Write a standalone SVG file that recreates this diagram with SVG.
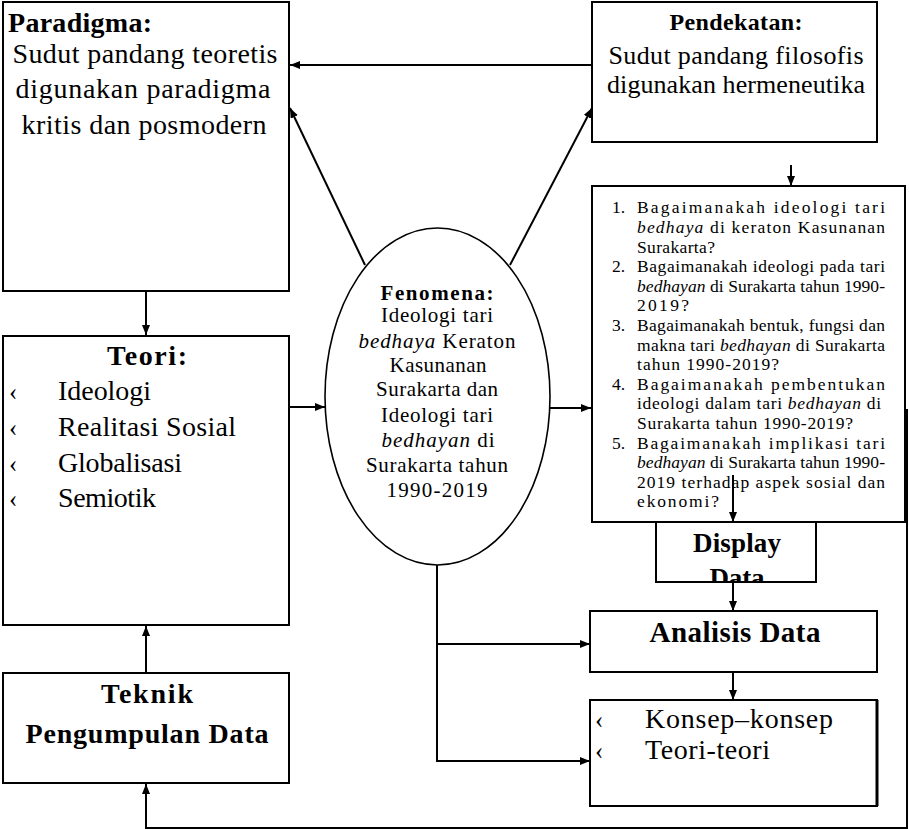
<svg xmlns="http://www.w3.org/2000/svg" width="909" height="830" viewBox="0 0 909 830" font-family="'Liberation Serif', 'Times New Roman', Times, serif">
  <style>
    .box { fill: #fff; stroke: #000; stroke-width: 2; }
    .ell { fill: #fff; stroke: #000; stroke-width: 1.6; }
    text { font-family: 'Liberation Serif', 'Times New Roman', Times, serif; fill: #000; }
    .b { font-weight: bold; }
    .i { font-style: italic; }
    .c { text-anchor: middle; }
    .big { font-size: 28px; }
    .mid { font-size: 26px; }
    .ellt { font-size: 21px; }
    .q { font-size: 17.5px; }
    .bul { font-size: 25px; }
    .wire { fill: none; stroke: #000; stroke-width: 2; marker-end: url(#arr); }
  </style>
  <defs>
    <marker id="arr" viewBox="0 0 10 8" refX="10" refY="4" markerWidth="10" markerHeight="8" markerUnits="userSpaceOnUse" orient="auto-start-reverse">
      <path d="M0,0 L10,4 L0,8 z" fill="#000"/>
    </marker>
    <clipPath id="dispClip">
      <rect x="656" y="522" width="160" height="60"/>
    </clipPath>
  </defs>

  <rect width="909" height="830" fill="#fff"/>

  <!-- connectors -->
  <g id="connectors">
    <path class="wire" d="M592,65 H290"/>
    <path class="wire" d="M365,265 L290,108"/>
    <path class="wire" d="M510,265 L592,108"/>
    <path class="wire" d="M146,291 V335"/>
    <path class="wire" d="M289,407 H325"/>
    <path class="wire" d="M550,408 H591"/>
    <path class="wire" d="M791,165 V186"/>
    <path class="wire" d="M437,565 V761 H590"/>
    <path class="wire" d="M437,644 H590"/>
    <path class="wire" d="M146,673 V626"/>
    <path class="wire" d="M146,784 V828 H907 V410 H882" style="marker-start: url(#arr)"/>
  </g>

  <!-- Paradigma -->
  <g id="paradigma">
    <rect class="box" x="3" y="2" width="286" height="289"/>
    <text class="b big" x="8" y="32" textLength="144">Paradigma:</text>
    <text class="big c" x="145" y="63" textLength="265">Sudut pandang teoretis</text>
    <text class="big c" x="143" y="98" textLength="255">digunakan paradigma</text>
    <text class="big c" x="144" y="134" textLength="245">kritis dan posmodern</text>
  </g>

  <!-- Pendekatan -->
  <g id="pendekatan">
    <rect class="box" x="592" y="2" width="285" height="140"/>
    <text class="b c" x="736" y="30" font-size="24" textLength="133">Pendekatan:</text>
    <text class="mid c" x="736" y="64" textLength="255">Sudut pandang filosofis</text>
    <text class="mid c" x="736" y="93" textLength="258">digunakan hermeneutika</text>
  </g>

  <!-- Fenomena -->
  <g id="fenomena">
    <ellipse class="ell" cx="437.5" cy="396.5" rx="112.5" ry="168.5"/>
    <text class="b ellt c" x="437" y="300" textLength="113">Fenomena:</text>
    <text class="ellt c" x="437" y="322" textLength="112">Ideologi tari</text>
    <text class="ellt c" x="437" y="348" textLength="157"><tspan class="i">bedhaya</tspan> Keraton</text>
    <text class="ellt c" x="438" y="372" textLength="97">Kasunanan</text>
    <text class="ellt c" x="437" y="396" textLength="122">Surakarta dan</text>
    <text class="ellt c" x="437" y="422" textLength="112">Ideologi tari</text>
    <text class="ellt c" x="438" y="447" textLength="113"><tspan class="i">bedhayan</tspan> di</text>
    <text class="ellt c" x="437" y="472" textLength="142">Surakarta tahun</text>
    <text class="ellt c" x="437" y="497" textLength="101">1990-2019</text>
  </g>

  <!-- Rumusan masalah -->
  <g id="pertanyaan">
    <rect class="box" x="592" y="186" width="313" height="336"/>
    <g class="q">
      <text class="q" x="612" y="213.3">1.</text>
      <text class="q" x="637" y="213.3" textLength="248">Bagaimanakah ideologi tari</text>
      <text class="q" x="637" y="232.9" textLength="248"><tspan class="i">bedhaya</tspan> di keraton Kasunanan</text>
      <text class="q" x="637" y="252.5" textLength="78">Surakarta?</text>
      <text class="q" x="612" y="272.1">2.</text>
      <text class="q" x="637" y="272.1" textLength="248">Bagaimanakah ideologi pada tari</text>
      <text class="q" x="637" y="291.7" textLength="248"><tspan class="i">bedhayan</tspan> di Surakarta tahun 1990-</text>
      <text class="q" x="637" y="311.3" textLength="52">2019?</text>
      <text class="q" x="612" y="330.9">3.</text>
      <text class="q" x="637" y="330.9" textLength="248">Bagaimanakah bentuk, fungsi dan</text>
      <text class="q" x="637" y="350.5" textLength="248">makna tari <tspan class="i">bedhayan</tspan> di Surakarta</text>
      <text class="q" x="637" y="370.1" textLength="142">tahun 1990-2019?</text>
      <text class="q" x="612" y="389.7">4.</text>
      <text class="q" x="637" y="389.7" textLength="248">Bagaimanakah pembentukan</text>
      <text class="q" x="637" y="409.3" textLength="244">ideologi dalam tari <tspan class="i">bedhayan</tspan> di</text>
      <text class="q" x="637" y="428.9" textLength="216">Surakarta tahun 1990-2019?</text>
      <text class="q" x="612" y="448.5">5.</text>
      <text class="q" x="637" y="448.5" textLength="248">Bagaimanakah implikasi tari</text>
      <text class="q" x="637" y="468.1" textLength="248"><tspan class="i">bedhayan</tspan> di Surakarta tahun 1990-</text>
      <text class="q" x="637" y="487.7" textLength="248">2019 terhadap aspek sosial dan</text>
      <text class="q" x="637" y="507.3" textLength="82">ekonomi?</text>
    </g>
    <path class="wire" d="M733,475 V522"/>
  </g>

  <!-- Teori -->
  <g id="teori">
    <rect class="box" x="3" y="336" width="286" height="289"/>
    <text class="b big c" x="147" y="365" textLength="80">Teori:</text>
    <text class="bul" x="9" y="400">‹</text>
    <text class="big" x="58" y="400" textLength="93">Ideologi</text>
    <text class="bul" x="9" y="436">‹</text>
    <text class="big" x="58" y="436" textLength="178">Realitasi Sosial</text>
    <text class="bul" x="9" y="472">‹</text>
    <text class="big" x="58" y="472" textLength="124">Globalisasi</text>
    <text class="bul" x="9" y="507">‹</text>
    <text class="big" x="58" y="507" textLength="98">Semiotik</text>
  </g>

  <!-- Teknik Pengumpulan Data -->
  <g id="teknik">
    <rect class="box" x="3" y="673" width="286" height="110"/>
    <text class="b big c" x="147" y="703" textLength="92">Teknik</text>
    <text class="b big c" x="147" y="743" textLength="243">Pengumpulan Data</text>
  </g>

  <!-- Display Data -->
  <g id="display">
    <rect class="box" x="656" y="522" width="160" height="60"/>
    <g clip-path="url(#dispClip)">
      <text class="b c" x="737" y="552" font-size="27" textLength="88">Display</text>
      <text class="b c" x="737" y="587" font-size="27" textLength="55">Data</text>
    </g>
    <path class="wire" d="M733,583 V611"/>
  </g>

  <!-- Analisis Data -->
  <g id="analisis">
    <rect class="box" x="590" y="611" width="287" height="61"/>
    <text class="b c" x="735" y="642" font-size="29" textLength="171">Analisis Data</text>
    <path class="wire" d="M733,672 V700"/>
  </g>

  <!-- Konsep dan teori -->
  <g id="konsep">
    <rect class="box" x="590" y="700" width="287" height="106"/>
    <line x1="877" y1="700" x2="877" y2="806" stroke="#000" stroke-width="3"/>
    <text class="bul" x="595" y="728">‹</text>
    <text class="big" x="645" y="728" textLength="188">Konsep–konsep</text>
    <text class="bul" x="595" y="759">‹</text>
    <text class="big" x="645" y="759" textLength="125">Teori-teori</text>
  </g>
</svg>
